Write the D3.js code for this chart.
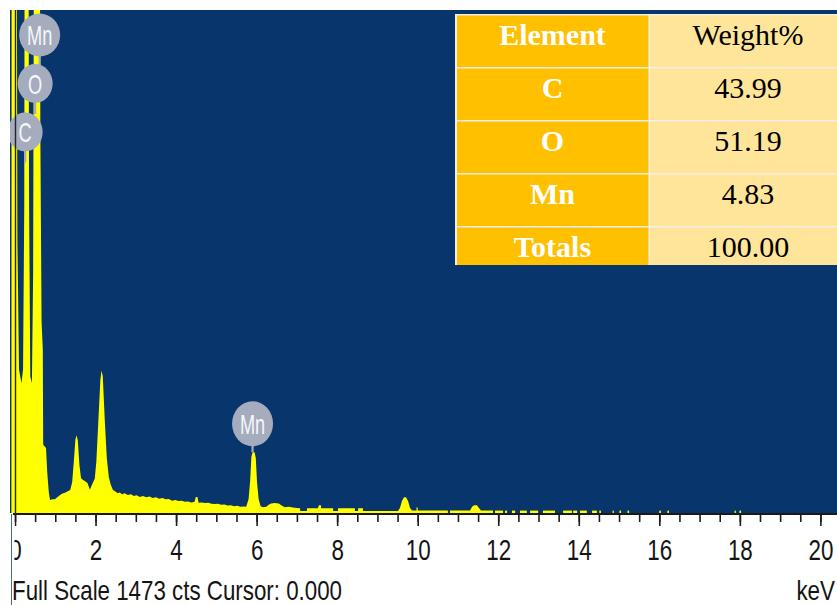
<!DOCTYPE html>
<html>
<head>
<meta charset="utf-8">
<script src="https://cdn.jsdelivr.net/npm/d3@7"></script>
<style>
  html, body { margin: 0; padding: 0; background: #ffffff; }
  svg { display: block; }
</style>
</head>
<body>
<svg id="chart" width="837" height="605"></svg>
<script>
// ---- EDS spectrum: [energy keV, counts] ----
const spectrum = [
  [-0.13, 0], [-0.09, 0], [-0.08, 2600], [0.03, 2600], [0.06, 800], [0.10, 420],
  [0.16, 380], [0.20, 420], [0.23, 900], [0.25, 2600], [0.32, 2600], [0.35, 900],
  [0.38, 400], [0.42, 380], [0.45, 700], [0.49, 2600], [0.60, 2600], [0.63, 1100],
  [0.66, 560], [0.69, 480], [0.70, 200], [0.77, 190], [0.80, 120], [0.84, 60],
  [0.87, 38], [0.93, 40], [0.99, 40], [1.05, 46], [1.12, 53], [1.18, 57], [1.24, 59],
  [1.30, 63], [1.37, 67], [1.42, 90], [1.46, 150], [1.50, 215], [1.53, 228],
  [1.56, 212], [1.60, 140], [1.64, 102], [1.69, 97], [1.75, 92], [1.80, 88],
  [1.86, 68], [1.90, 80], [1.94, 90], [1.98, 100], [2.02, 150], [2.07, 270],
  [2.12, 390], [2.15, 417], [2.18, 400], [2.23, 270], [2.28, 160], [2.33, 105],
  [2.38, 82], [2.43, 68], [2.50, 62], [2.55, 58], [2.60, 60], [2.66, 55], [2.72, 58],
  [2.80, 53], [2.88, 55], [2.95, 50], [3.02, 52], [3.10, 47], [3.18, 50], [3.26, 46],
  [3.34, 48], [3.42, 44], [3.50, 46], [3.58, 42], [3.66, 44], [3.74, 40], [3.82, 41],
  [3.90, 36], [3.98, 38], [4.06, 35], [4.14, 36], [4.22, 33], [4.30, 34], [4.38, 31],
  [4.46, 33], [4.49, 47], [4.53, 47], [4.56, 30], [4.64, 31], [4.72, 29], [4.80, 30],
  [4.88, 27], [4.96, 26], [5.04, 27], [5.12, 24], [5.20, 25], [5.28, 22], [5.36, 23],
  [5.44, 20], [5.52, 21], [5.60, 18], [5.68, 19], [5.74, 18], [5.80, 40], [5.84, 95],
  [5.87, 165], [5.90, 178], [5.95, 178], [5.98, 160], [6.01, 90], [6.05, 40],
  [6.10, 20], [6.16, 17], [6.24, 18], [6.30, 24], [6.36, 28], [6.45, 29], [6.55, 28],
  [6.62, 22], [6.70, 17], [6.80, 18], [6.90, 16], [7.00, 15], [7.08, 14], [7.08, 6],
  [7.25, 6], [7.25, 14], [7.52, 14], [7.55, 23], [7.60, 23], [7.60, 14], [7.90, 14],
  [7.90, 6], [8.02, 6], [8.02, 14], [8.44, 14], [8.44, 6], [8.52, 6], [8.52, 14],
  [8.64, 14], [8.64, 6], [9.51, 6], [9.56, 15], [9.61, 35], [9.66, 46], [9.71, 46],
  [9.76, 35], [9.81, 15], [9.86, 7], [9.97, 7], [9.97, 16], [10.00, 16], [10.00, 7],
  [10.75, 7], [10.75, 0], [10.80, 0], [10.80, 7], [11.30, 7], [11.35, 18], [11.40, 23],
  [11.47, 23], [11.52, 15], [11.57, 7], [11.87, 7], [11.87, 0]
];

// Sparse high-energy channels: [from keV, to keV, counts]
const sparseBins = [
  [11.92, 12.12, 7], [12.17, 12.22, 7], [12.34, 12.42, 7], [12.54, 12.71, 7],
  [12.79, 12.99, 7], [13.11, 13.41, 7], [13.61, 13.83, 7], [13.86, 13.96, 7],
  [14.03, 14.20, 7], [14.33, 14.45, 7], [14.51, 14.55, 7], [14.84, 14.87, 7],
  [15.01, 15.05, 7], [15.21, 15.25, 7], [16.00, 16.04, 7], [16.20, 16.24, 7],
  [17.87, 17.90, 7], [17.99, 18.03, 7]
];

// Identified X-ray lines
const lineLabels = ["C", "O", "Mn", "Mn"];
const lineEnergies = [0.277, 0.525, 0.637, 5.899];

// Axis
const majorTicks = [0, 2, 4, 6, 8, 10, 12, 14, 16, 18, 20];
const minorStep = 0.5;
const fullScale = 1473;
const cursorKeV = 0;
const unitLabel = "keV";

// Quantification table
const tableHeader = ["Element", "Weight%"];
const elements = ["C", "O", "Mn"];
const weightPct = [43.99, 51.19, 4.83];
const totalLabel = "Totals";
const totalPct = 100.00;

// ---- drawing ----
const W = 837, H = 605;
const svg = d3.select("#chart");

const plot = { left: 10, top: 10, right: 837, bottom: 513 };
const x = d3.scaleLinear().domain([0, 20]).range([15, 820.4]);
const y = d3.scaleLinear().domain([0, fullScale]).range([plot.bottom, plot.top]);

const BLUE = "#08356b";
const YELLOW = "#ffff00";
const LABEL_GREY = "#a4acbd";

svg.append("rect").attr("x", 0).attr("y", 0).attr("width", W).attr("height", H).attr("fill", "#ffffff");

const defs = svg.append("defs");
defs.append("clipPath").attr("id", "plotClip")
  .append("rect")
  .attr("x", plot.left).attr("y", plot.top)
  .attr("width", plot.right - plot.left).attr("height", plot.bottom - plot.top);
// tick labels are cut at the left edge of the axis (local axis coordinates)
defs.append("clipPath").attr("id", "labelClip")
  .append("rect").attr("x", 14.5).attr("y", -2).attr("width", W - 14.5).attr("height", 100);

svg.append("rect")
  .attr("x", plot.left).attr("y", plot.top)
  .attr("width", plot.right - plot.left).attr("height", plot.bottom - plot.top)
  .attr("fill", BLUE);

const gPlot = svg.append("g").attr("clip-path", "url(#plotClip)");

const area = d3.area()
  .x(d => x(d[0]))
  .y0(y(0))
  .y1(d => y(d[1]))
  .curve(d3.curveLinear);

gPlot.append("path")
  .datum(spectrum)
  .attr("d", area)
  .attr("fill", YELLOW);

gPlot.selectAll("rect.bin")
  .data(sparseBins)
  .join("rect")
  .attr("class", "bin")
  .attr("x", d => x(d[0]))
  .attr("width", d => Math.max(1, x(d[1]) - x(d[0])))
  .attr("y", d => y(d[2]))
  .attr("height", d => y(0) - y(d[2]))
  .attr("fill", YELLOW);

// ---- peak labels ----
function peakHeight(e) {
  return d3.max(spectrum.filter(p => Math.abs(p[0] - e) <= 0.1), p => p[1]) || 0;
}
const labels = lineLabels.map((name, i) => {
  const e = lineEnergies[i];
  const big = name.length > 1;
  return { name, e, peak: peakHeight(e), rx: big ? 20.5 : 17.5, ry: big ? 21.5 : 19.5 };
});
const offScale = labels.filter(d => d.peak > fullScale).sort((a, b) => b.e - a.e);
offScale.forEach((d, i) => {
  d.cx = x(d.e) - 1;
  d.cy = 35 + i * 48.5;
  d.stemTop = d.cy + d.ry;
  d.stemBottom = d.stemTop + 11;
});
labels.filter(d => d.peak <= fullScale).forEach(d => {
  d.cx = x(d.e);
  d.stemBottom = y(d.peak);
  d.stemTop = d.stemBottom - 6;
  d.ry = 22.5;
  d.cy = d.stemTop - d.ry;
});

const gLab = gPlot.append("g");
gLab.selectAll("line.stem").data(labels).join("line")
  .attr("class", "stem")
  .attr("x1", d => d.cx).attr("x2", d => d.cx)
  .attr("y1", d => d.stemTop - 1).attr("y2", d => d.stemBottom)
  .attr("stroke", LABEL_GREY).attr("stroke-width", 2.2);
gLab.selectAll("ellipse").data(labels).join("ellipse")
  .attr("cx", d => d.cx).attr("cy", d => d.cy)
  .attr("rx", d => d.rx).attr("ry", d => d.ry)
  .attr("fill", LABEL_GREY);
gLab.selectAll("text").data(labels).join("text")
  .attr("transform", d => `translate(${d.cx},${d.cy + 10}) scale(0.7,1.05)`)
  .attr("text-anchor", "middle")
  .attr("font-family", "Liberation Sans, Arial, sans-serif")
  .attr("font-size", 26)
  .attr("fill", "#f6f7fa")
  .text(d => d.name);

// ---- axes ----
const axisY = plot.bottom + 1;
const minorTicks = d3.range(0, 20 + 1e-9, minorStep);

const gMinor = svg.append("g").attr("transform", `translate(0,${axisY})`)
  .call(d3.axisBottom(x).tickValues(minorTicks).tickSize(8).tickFormat(""));
const gMajor = svg.append("g").attr("transform", `translate(0,${axisY})`)
  .attr("clip-path", "url(#labelClip)")
  .call(d3.axisBottom(x).tickValues(majorTicks).tickSize(12).tickFormat(d3.format("d")));

[gMinor, gMajor].forEach(g => {
  g.select(".domain").remove();
  g.selectAll(".tick line").attr("stroke", "#1c1c1c").attr("stroke-width", 1.6);
});
gMajor.selectAll(".tick text")
  .attr("y", null).attr("dy", null)
  .attr("transform", "translate(0,46) scale(0.8,1.04)")
  .attr("font-family", "Liberation Sans, Arial, sans-serif")
  .attr("font-size", 28)
  .attr("fill", "#141414");

// axis lines
svg.append("line")
  .attr("x1", 13).attr("x2", W).attr("y1", axisY).attr("y2", axisY)
  .attr("stroke", "#1a1a1a").attr("stroke-width", 2);
svg.append("line")
  .attr("x1", 15.5).attr("x2", 15.5).attr("y1", plot.top).attr("y2", axisY)
  .attr("stroke", "#262626").attr("stroke-width", 1.4);
svg.append("line")
  .attr("x1", 11.5).attr("x2", 11.5).attr("y1", axisY).attr("y2", H)
  .attr("stroke", "#4a6b9e").attr("stroke-width", 1);

// status line and unit
svg.append("text")
  .attr("x", 12).attr("y", 600)
  .attr("font-family", "Liberation Sans, Arial, sans-serif")
  .attr("font-size", 28)
  .attr("textLength", 330).attr("lengthAdjust", "spacingAndGlyphs")
  .attr("fill", "#141414")
  .text(`Full Scale ${fullScale} cts Cursor: ${cursorKeV.toFixed(3)}`);
svg.append("text")
  .attr("transform", "translate(835,600) scale(0.8,1)")
  .attr("text-anchor", "end")
  .attr("font-family", "Liberation Sans, Arial, sans-serif")
  .attr("font-size", 28)
  .attr("fill", "#141414")
  .text(unitLabel);

// ---- quantification table ----
const rows = [tableHeader]
  .concat(elements.map((el, i) => [el, weightPct[i].toFixed(2)]))
  .concat([[totalLabel, totalPct.toFixed(2)]]);

const tbl = { left: 455, split: 649, right: 845, top: 14, rowH: 53, bottom: 265 };
const gT = svg.append("g");
gT.append("rect")
  .attr("x", tbl.left).attr("y", tbl.top)
  .attr("width", tbl.right - tbl.left).attr("height", tbl.bottom - tbl.top)
  .attr("fill", "#f3efe6");

const rowG = gT.selectAll("g.row").data(rows).join("g")
  .attr("class", "row")
  .attr("transform", (d, i) => `translate(0,${tbl.top + i * tbl.rowH})`);

rowG.append("rect")
  .attr("x", tbl.left + 2).attr("y", 1.5)
  .attr("width", tbl.split - tbl.left - 2.5)
  .attr("height", (d, i) => Math.min(tbl.rowH - 1.5, tbl.bottom - (tbl.top + i * tbl.rowH) - 1.5))
  .attr("fill", "#ffc000");
rowG.append("rect")
  .attr("x", tbl.split + 1).attr("y", 1.5)
  .attr("width", tbl.right - tbl.split - 1)
  .attr("height", (d, i) => Math.min(tbl.rowH - 1.5, tbl.bottom - (tbl.top + i * tbl.rowH) - 1.5))
  .attr("fill", "#ffe599");

rowG.append("text")
  .attr("x", (tbl.left + tbl.split) / 2 + 0.5).attr("y", 31)
  .attr("text-anchor", "middle")
  .attr("font-family", "Liberation Serif, Times New Roman, serif")
  .attr("font-weight", "bold")
  .attr("font-size", 30)
  .attr("fill", "#ffffff")
  .text(d => d[0]);
rowG.append("text")
  .attr("x", 748).attr("y", 31)
  .attr("text-anchor", "middle")
  .attr("font-family", "Liberation Serif, Times New Roman, serif")
  .attr("font-size", 30)
  .attr("fill", "#000000")
  .text(d => d[1]);
</script>
</body>
</html>
